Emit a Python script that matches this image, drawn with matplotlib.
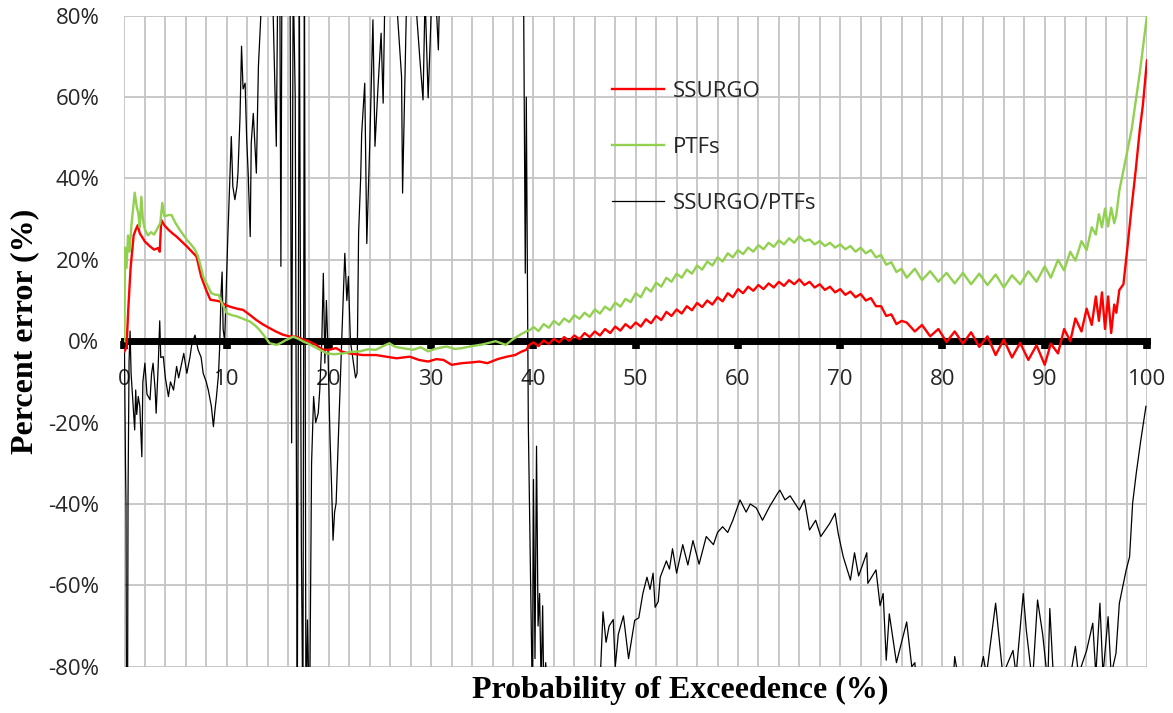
import matplotlib.pyplot as plt
from matplotlib.ticker import FuncFormatter

# SSURGO percent error (red)
ssurgo_x = [0, 0.2, 0.37, 0.6, 0.9, 1.1, 1.3, 1.5, 1.7, 2.0, 2.5, 2.9, 3.3, 3.45, 3.6, 3.9, 4.3, 4.7,
            5.1, 5.6, 6.1, 6.6, 7.05, 7.5, 8.0, 8.4, 8.9, 9.3, 9.8, 10.3, 11.0, 11.6, 12.3, 12.9, 13.5,
            14.2, 14.8, 15.5, 16.1, 16.8, 17.4, 18.1, 18.8, 19.4, 20.0, 20.7, 21.3, 22.0, 23.3, 24.6,
            25.6, 26.6, 27.9, 28.8, 29.7, 30.5, 31.2, 32.0, 33.0, 34.0, 34.7, 35.5, 36.5, 37.4, 38.2,
            38.8, 39.3, 39.6,
            40, 40.5, 41, 41.5, 42, 42.5, 43, 43.5, 44, 44.5, 45, 45.5, 46, 46.5, 47, 47.5, 48, 48.5,
            49, 49.5, 50, 50.5, 51, 51.5, 52, 52.5, 53, 53.5, 54, 54.5, 55, 55.5, 56, 56.5, 57, 57.5,
            58, 58.5, 59, 59.5, 60, 60.5, 61, 61.5, 62, 62.5, 63, 63.5, 64, 64.5, 65, 65.5, 66, 66.5,
            67, 67.5, 68, 68.5, 69, 69.5, 70, 70.5, 71, 71.5, 72, 72.5, 73, 73.5, 74, 74.5, 75, 75.5,
            76, 76.5, 77.3, 78.0, 78.8, 79.6, 80.4, 81.2, 82.0, 82.8, 83.6, 84.4, 85.2, 86.0, 86.8,
            87.6, 88.4, 89.2, 90.0, 90.6, 91.3, 91.9, 92.5, 93.0, 93.6, 94.1, 94.6, 95.0, 95.3, 95.6,
            95.9, 96.2, 96.5, 96.8, 97.0, 97.3, 97.7, 98.1, 98.5, 98.9, 99.3, 99.6, 100]
ssurgo_y = [-2.5, -1.5, 7.7, 18, 26, 27.4, 28.5, 26.5, 25.7, 24.5, 23.3, 22.5, 22.9, 22, 29.8, 28.5,
            27.4, 26.5, 25.7, 24.5, 23.3, 22.0, 20.8, 15.9, 12.5, 10.2, 10.0, 9.8, 9.0, 8.5, 8.0, 7.7,
            6.4, 5.2, 4.2, 3.2, 2.4, 1.6, 1.2, 1.1, 0.5, -0.1, -1.0, -2.1, -2.1, -1.7, -2.6, -3.0,
            -3.4, -3.4, -3.8, -4.2, -3.8, -4.6, -5.0, -4.4, -4.6, -5.8, -5.4, -5.2, -5.0, -5.4, -4.4,
            -3.8, -3.4, -2.6, -2.1, -0.9,
            -0.3, -1.2, 0.2, -0.7, 0.6, -0.3, 1.0, 0.1, 1.4, 0.5, 2.0, 1.0, 2.4, 1.4, 3.0, 2.0, 3.6,
            2.6, 4.2, 3.2, 4.6, 3.6, 5.4, 4.4, 6.2, 5.2, 7.2, 6.2, 7.8, 6.8, 8.6, 7.6, 9.4, 8.4, 10.0,
            9.0, 10.8, 9.8, 11.8, 10.8, 12.8, 11.8, 13.4, 12.4, 13.8, 12.8, 14.2, 13.2, 14.6, 13.6,
            15.0, 14.0, 15.2, 13.8, 14.6, 13.2, 14.0, 12.6, 13.4, 12.0, 12.8, 11.4, 12.2, 10.8, 11.6,
            10.0, 10.6, 8.6, 8.6, 6.2, 6.6, 4.2, 5.0, 4.6, 2.4, 4.0, 1.2, 3.0, -0.2, 2.4, -0.6, 2.2,
            -1.4, 1.2, -3.4, 0.4, -4.0, -0.4, -4.6, -1.0, -5.8, -0.6, -3.0, 3.0, 0.0, 5.6, 2.4, 8.0,
            4.0, 11.0, 5.0, 12.0, 3.0, 11.0, 2.0, 9.0, 7.0, 12.6, 14.0, 23.3, 33.0, 42.0, 52.0, 58.0,
            69.0]

# PTFs percent error (green)
ptfs_x = [0, 0.05, 0.2, 0.35, 0.5, 0.7, 1.0, 1.2, 1.35, 1.5, 1.65, 1.8, 2.0, 2.3, 2.6, 2.9, 3.2, 3.5,
          3.7, 3.9, 4.3, 4.6, 5.0, 5.4, 5.8, 6.1, 6.5, 6.9, 7.2, 7.5, 7.7, 8.1, 8.5, 8.9, 9.2, 9.6,
          10.0, 10.5, 11.0, 11.6, 12.3, 12.8, 13.2, 13.7, 14.2, 14.9, 15.4, 15.8, 16.5, 17.0, 17.5,
          18.0, 18.5, 19.2, 19.8, 20.5, 21.4, 22.2, 23.0, 23.8, 24.6, 25.3, 25.9, 26.5, 27.2, 28.2,
          29.0, 29.7, 30.5, 31.5, 32.3, 33.0, 34.0, 35.0, 36.3, 37.3, 38.0, 38.7, 39.3, 39.7,
          40, 40.5, 41, 41.5, 42, 42.5, 43, 43.5, 44, 44.5, 45, 45.5, 46, 46.5, 47, 47.5, 48, 48.5,
          49, 49.5, 50, 50.5, 51, 51.5, 52, 52.5, 53, 53.5, 54, 54.5, 55, 55.5, 56, 56.5, 57, 57.5,
          58, 58.5, 59, 59.5, 60, 60.5, 61, 61.5, 62, 62.5, 63, 63.5, 64, 64.5, 65, 65.5, 66, 66.5,
          67, 67.5, 68, 68.5, 69, 69.5, 70, 70.5, 71, 71.5, 72, 72.5, 73, 73.5, 74, 74.5, 75, 75.5,
          76, 76.5, 77.3, 78.0, 78.8, 79.6, 80.4, 81.2, 82.0, 82.8, 83.6, 84.4, 85.2, 86.0, 86.8,
          87.6, 88.4, 89.2, 90.0, 90.6, 91.3, 91.9, 92.5, 93.0, 93.6, 94.1, 94.6, 95.0, 95.3, 95.6,
          95.9, 96.2, 96.5, 96.8, 97.0, 97.3, 97.7, 98.1, 98.5, 98.9, 99.3, 99.7, 100]
ptfs_y = [0, 23, 18, 26, 22, 29, 36.5, 33, 31.5, 28, 35.5, 30, 27.4, 26, 26.8, 26.2, 27.6, 29, 34,
          30.7, 31, 31, 29, 27.4, 26, 24.9, 23.8, 22.5, 20.8, 18, 15.9, 13.8, 11.8, 11.4, 11.4, 9,
          6.9, 6.4, 6.1, 5.5, 4.8, 3.8, 2.8, 1.2, -0.5, -0.9, -0.3, 0.3, 1.1, 0.6, -0.1, -0.6, -1.3,
          -2.2, -3.0, -3.2, -3.0, -2.6, -2.5, -2.0, -2.1, -1.2, -0.5, -1.4, -1.7, -2.1, -1.5, -2.5,
          -1.8, -1.3, -1.9, -1.7, -1.2, -0.8, 0, -0.9, 0.5, 1.6, 2.4, 2.8,
          3.5, 2.5, 4.2, 3.3, 5.0, 4.0, 5.6, 4.7, 6.4, 5.5, 7.0, 6.0, 7.8, 6.8, 8.5, 7.6, 9.5, 8.5,
          10.4, 9.6, 11.8, 10.8, 13.2, 12.2, 14.4, 13.4, 15.6, 14.6, 16.6, 15.6, 17.6, 16.6, 18.6,
          17.6, 19.6, 18.6, 20.6, 19.6, 21.6, 20.6, 22.4, 21.4, 23.0, 22.0, 23.6, 22.6, 24.2, 23.2,
          24.8, 23.8, 25.3, 24.2, 25.8, 24.6, 25.0, 23.8, 24.6, 23.4, 24.2, 23.0, 23.8, 22.6, 23.4,
          22.0, 23.0, 21.6, 22.4, 20.6, 21.2, 18.8, 19.4, 17.0, 17.8, 15.6, 17.8, 15.0, 17.2, 14.6,
          16.8, 14.2, 16.8, 14.0, 16.6, 13.8, 16.4, 13.2, 16.2, 14.0, 17.2, 14.6, 18.4, 15.6, 20.0,
          17.4, 22.0, 19.8, 24.6, 22.4, 28.0, 26.2, 31.2, 28.0, 32.6, 28.2, 32.8, 29.0, 31.0, 37.0,
          42.0, 47.0, 52.0, 59.0, 66.0, 74.0, 80.0]

# SSURGO/PTFs (black)
ratio_x = [0.0, 0.1, 0.15, 0.2, 0.3, 0.35, 0.45, 0.55, 0.65, 0.8, 1.0, 1.1, 1.2, 1.35, 1.5, 1.7, 1.8,
           2.0, 2.2, 2.5, 2.65, 2.8, 3.0, 3.1, 3.3, 3.45, 3.55, 3.8, 4.0, 4.3, 4.5, 4.8, 5.1, 5.3, 5.6,
           5.8, 6.1, 6.4, 6.6, 6.9, 7.2, 7.5, 7.7, 8.0, 8.2, 8.5, 8.7, 8.85, 9.0, 9.2, 9.3, 9.45,
           9.55, 9.65, 9.8, 10.1, 10.3, 10.45, 10.6, 10.8, 11.0, 11.1, 11.3, 11.45, 11.6, 11.8, 11.95,
           12.1, 12.3, 12.4, 12.6, 12.9, 13.1, 13.3, 13.5, 14.0, 14.5, 14.85, 15.0, 15.2, 15.3, 15.4,
           16.0, 16.2, 16.35, 16.5, 16.7, 16.9, 17.1, 17.3, 17.45, 17.6, 17.75, 17.9, 18.1, 18.3,
           18.5, 18.7, 18.95, 19.1, 19.3, 19.45, 19.6, 19.75, 19.9, 20.1, 20.25, 20.4, 20.55, 20.7,
           20.9, 21.05, 21.25, 21.55, 21.75, 21.9, 22.1, 22.4, 22.6, 22.75, 22.9, 23.1, 23.2, 23.5,
           23.7, 24.0, 24.3, 24.5, 24.8, 25.1, 25.3, 25.5, 26.0, 26.5, 27.1, 27.2, 27.6, 28.3, 28.9,
           29.2, 29.4, 29.7, 30.1, 30.5, 30.7, 30.9, 32, 35, 38, 39.0, 39.2, 39.3, 39.5, 39.9, 40.0,
           40.15, 40.3, 40.45, 40.6, 40.75, 40.9, 41.0, 41.2, 41.4, 42, 43.5, 43.6, 45, 46.5, 46.8,
           47.1, 47.4, 47.8, 48.0, 48.3, 48.8, 49.3, 49.9, 50.3, 50.7, 51.1, 51.4, 51.7, 51.9, 52.2,
           52.4, 53.0, 53.3, 53.6, 54.0, 54.6, 55.1, 55.6, 56.2, 56.9, 57.6, 58.0, 58.5, 59.0, 59.5,
           60.2, 60.8, 61.2, 61.8, 62.4, 63.1, 63.9, 64.1, 64.6, 65.1, 66.0, 66.5, 67.0, 67.6, 68.1,
           68.97, 69.5, 69.8, 70.3, 71.0, 71.4, 71.8, 72.6, 72.7, 73.5, 73.9, 74.2, 74.5, 74.8, 75.5,
           76.5, 77.0, 77.3, 77.6, 79, 81.0, 81.2, 81.5, 82.5, 83.0, 84.0, 84.3, 85.2, 85.5, 85.9,
           86.9, 87.2, 87.9, 88.2, 88.8, 89.3, 89.8, 90.3, 90.5, 90.9, 92, 93.0, 93.3, 94.1, 94.7,
           95.0, 95.4, 95.7, 96.2, 96.5, 96.97, 97.3, 97.97, 98.3, 98.6, 98.95, 99.4, 99.9]
ratio_y = [-2, -30, -40, -95, -95, -38, -5, 2.5, -8, -14, -21.8, -12, -18, -13.6, -16, -28.4, -10,
           -5.4, -13, -14.4, -8, -5.4, -12, -17.7, -6, 5, -4, -3.8, -9, -13.6, -10, -12, -6.2, -9,
           -5.4, -3, -7.9, -4, -0.5, 1.5, -2.1, -4, -7.9, -10, -12, -16, -21, -17, -13.6, -8, -2.1,
           12, 17, 3, 0, 25, 39.7, 50.3, 38, 34.8, 38, 41.3, 55, 72.5, 62, 63.4, 50, 41.3, 25.7, 48.7,
           56, 41.3, 67.5, 78, 90, 95, 85, 47.9, 90, 85, 18.4, 90, 100, 85, -25, 90, 60, -95, 90, -50,
           -95, 95, -95, -68.5, -95, -30, -13.6, -20, -17.7, -12, 0, 16.7, -5.4, 10, -2, -23.4, -35,
           -48.9, -42, -39.8, -25, -13.6, 0.3, 21.6, 10, 15.9, 0, -5.4, -9, -7.9, 26.6, 40, 51, 63.4,
           24, 49.5, 79, 47.9, 62.6, 75.7, 58.5, 90, 95, 88, 65, 36.4, 85, 90, 69, 59.3, 85, 59.8, 88,
           82, 71.6, 95, 120, 130, 110, 100, 16.7, 60, -21, -90, -34, -78, -25.8, -70, -62, -85, -65,
           -85, -79, -90, -95, -80.5, -95, -100, -85, -66.5, -74, -70, -68.4, -80, -72, -67.5, -78,
           -68.6, -68, -62, -58, -61, -57, -65.4, -64, -58, -54, -56, -51, -57, -50, -55, -49, -54.8,
           -48, -50, -47, -45.6, -47, -44, -39, -42, -40, -41, -44, -40.6, -37.3, -36.6, -39, -38,
           -41.5, -39, -46.4, -44, -48, -44.8, -42.3, -47.2, -53, -58.7, -52, -57.7, -52, -59.5,
           -56.2, -65, -62, -78.4, -67, -79, -69, -80, -79, -90, -100, -85, -77.5, -82, -81, -90,
           -77.5, -82, -64.4, -72, -82, -76, -82, -62, -71, -84, -63.6, -72, -84, -65.7, -85, -90,
           -75, -82, -76, -69.3, -82, -64.4, -82, -67.7, -82, -76.7, -64.4, -56.2, -53, -39.8,
           -32.5, -24.3, -16]

sans = ['Open Sans', 'DejaVu Sans']
serif = ['Liberation Serif', 'DejaVu Serif']

fig = plt.figure(figsize=(11.73, 7.13), dpi=100)
ax = fig.add_axes([0.1061, 0.0649, 0.8717, 0.9131])

ax.plot(ratio_x, ratio_y, color='black', lw=0.9, label='SSURGO/PTFs', zorder=3)
ax.plot(ssurgo_x, ssurgo_y, color='#ff0000', lw=1.7, label='SSURGO', zorder=4)
ax.plot(ptfs_x, ptfs_y, color='#92d050', lw=1.7, label='PTFs', zorder=4)

ax.set_xlim(0, 100)
ax.set_ylim(-80, 80)
ax.set_xticks(range(0, 101, 10))
ax.set_xticks(range(0, 101, 2), minor=True)
ax.set_yticks(range(-80, 81, 20))
ax.yaxis.set_major_formatter(FuncFormatter(lambda v, p: f'{v:.0f}%'))
ax.grid(True, which='both', color='#c4c4c4', lw=1.3, zorder=0)
ax.set_axisbelow(True)

for s in ['left', 'right', 'top']:
    ax.spines[s].set_visible(False)
ax.spines['bottom'].set_position(('data', 0))
ax.spines['bottom'].set_linewidth(5)
ax.spines['bottom'].set_zorder(2)

ax.tick_params(axis='x', which='major', direction='out', length=6, width=5.5, pad=14,
               labelsize=16, colors='black', labelcolor='#262626')
ax.tick_params(axis='x', which='minor', length=0)
ax.tick_params(axis='y', length=0, pad=18, labelsize=16, labelcolor='#262626')
for lab in ax.get_xticklabels() + ax.get_yticklabels():
    lab.set_family(sans)

handles, labels = ax.get_legend_handles_labels()
order = [1, 2, 0]
leg = ax.legend([handles[i] for i in order], [labels[i] for i in order], frameon=False,
                loc='upper left', bbox_to_anchor=(0.457, 0.93), prop={'family': sans, 'size': 16},
                handlelength=2.35, handletextpad=0.4, labelspacing=1.56)
for t in leg.get_texts():
    t.set_color('#262626')

fig.text(0.58, 0.032, 'Probability of Exceedence (%)', ha='center', va='center',
         family=serif, weight='bold', size=23)
fig.text(0.021, 1 - 331 / 713, 'Percent error (%)', ha='center', va='center', rotation=90,
         family=serif, weight='bold', size=23)

fig.savefig('out.png', dpi=100)
